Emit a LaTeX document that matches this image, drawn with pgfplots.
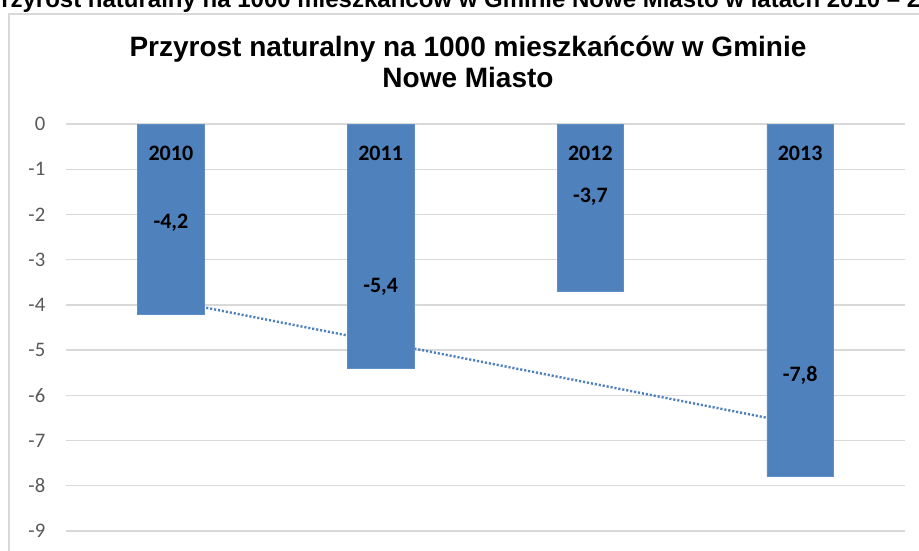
\documentclass[border=0pt]{standalone}
\usepackage{pgfplots}
\pgfplotsset{compat=1.18}
\usepackage{fontspec}
\setmainfont{Liberation Sans}
\newfontfamily\carlito{Carlito}

\definecolor{barblue}{RGB}{79,129,189}
\definecolor{gridgray}{RGB}{217,217,217}
\definecolor{tickgray}{RGB}{89,89,89}

\begin{document}
\begin{tikzpicture}[x=0.75pt,y=0.75pt]
  % picture in pixel units, y counted from the bottom (550 = top edge)
  \useasboundingbox (0,0) rectangle (919,550);
  \clip (0,0) rectangle (919,550);

  % chart frame (cut off at right and bottom)
  \draw[gridgray, line width=1pt] (9,536) rectangle (940,-30);

  % caption cut at the top
  \node[anchor=base west, font=\fontsize{18}{20}\selectfont\bfseries, inner sep=0pt]
    at (-15,542) {Przyrost naturalny na 1000 mieszkańców w Gminie Nowe Miasto w latach 2010 – 2013};

  % chart title
  \node[align=center, font=\fontsize{21}{23}\selectfont\bfseries, inner sep=0pt]
    at (468,488) {Przyrost naturalny na 1000 mieszkańców w Gminie\\Nowe Miasto};

  \begin{scope}[xshift=49.5pt, yshift=14.25pt]
  \begin{axis}[
      at={(0pt,0pt)}, anchor=south west,
      scale only axis,
      width=629.25pt, height=305.25pt,
      xmin=-0.5, xmax=3.5,
      ymin=-9, ymax=0,
      axis line style={draw=none},
      xtick=\empty,
      ytick={-9,-8,...,0},
      major tick length=0pt,
      ymajorgrids=true,
      grid style={gridgray, line width=1pt},
      yticklabel style={font=\carlito\fontsize{15.5}{15.5}\selectfont, text=tickgray, xshift=-12pt},
      /pgf/number format/assume math mode=true,
      clip=false,
    ]
    % linear trend (least squares fit of the four values)
    \addplot[barblue, line width=1.8pt, dash pattern=on 1.6pt off 1.4pt, forget plot]
      coordinates {(0,-3.91) (3,-6.64)};

    \addplot[ybar, bar width=50pt, fill=barblue, draw=barblue!90!white, forget plot]
      coordinates {(0,-4.2) (1,-5.4) (2,-3.7) (3,-7.8)};

    % year labels
    \addplot[only marks, mark=none, nodes near coords, point meta=explicit symbolic,
      every node near coord/.style={anchor=center, font=\carlito\bfseries\fontsize{16.5}{16.5}\selectfont}]
      coordinates {(0,-0.64) [2010] (1,-0.64) [2011] (2,-0.64) [2012] (3,-0.64) [2013]};

    % value labels
    \addplot[only marks, mark=none, nodes near coords, point meta=explicit symbolic,
      every node near coord/.style={anchor=center, font=\carlito\bfseries\fontsize{16.5}{16.5}\selectfont}]
      coordinates {(0,-2.19) [-4,2] (1,-3.6) [-5,4] (2,-1.6) [-3,7] (3,-5.55) [-7,8]};
  \end{axis}
  \end{scope}
\end{tikzpicture}
\end{document}
